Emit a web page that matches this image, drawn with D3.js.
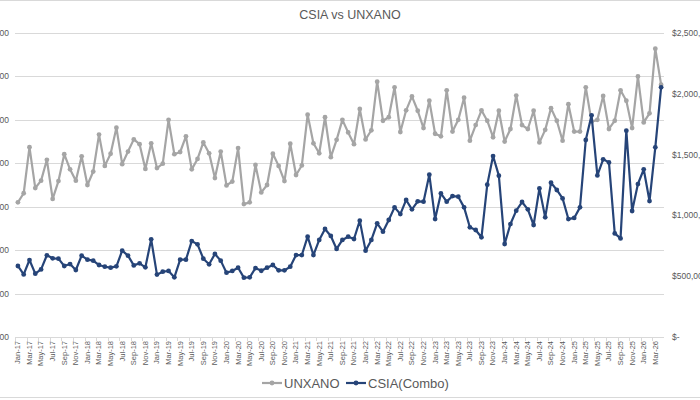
<!DOCTYPE html>
<html><head><meta charset="utf-8">
<script src="https://cdn.jsdelivr.net/npm/d3@7"></script>
<style>body{margin:0;background:#fff}svg{display:block;font-family:"Liberation Sans","Open Sans",sans-serif}</style>
</head><body><svg id="c" width="700" height="400"></svg>
<script>
const months = [
"Jan-17","Feb-17","Mar-17","Apr-17","May-17","Jun-17","Jul-17","Aug-17","Sep-17","Oct-17","Nov-17","Dec-17",
"Jan-18","Feb-18","Mar-18","Apr-18","May-18","Jun-18","Jul-18","Aug-18","Sep-18","Oct-18","Nov-18","Dec-18",
"Jan-19","Feb-19","Mar-19","Apr-19","May-19","Jun-19","Jul-19","Aug-19","Sep-19","Oct-19","Nov-19","Dec-19",
"Jan-20","Feb-20","Mar-20","Apr-20","May-20","Jun-20","Jul-20","Aug-20","Sep-20","Oct-20","Nov-20","Dec-20",
"Jan-21","Feb-21","Mar-21","Apr-21","May-21","Jun-21","Jul-21","Aug-21","Sep-21","Oct-21","Nov-21","Dec-21",
"Jan-22","Feb-22","Mar-22","Apr-22","May-22","Jun-22","Jul-22","Aug-22","Sep-22","Oct-22","Nov-22","Dec-22",
"Jan-23","Feb-23","Mar-23","Apr-23","May-23","Jun-23","Jul-23","Aug-23","Sep-23","Oct-23","Nov-23","Dec-23",
"Jan-24","Feb-24","Mar-24","Apr-24","May-24","Jun-24","Jul-24","Aug-24","Sep-24","Oct-24","Nov-24","Dec-24",
"Jan-25","Feb-25","Mar-25","Apr-25","May-25","Jun-25","Jul-25","Aug-25","Sep-25","Oct-25","Nov-25","Dec-25",
"Jan-26","Feb-26","Mar-26","Apr-26"];

const unxano = [
4100,4310,5370,4430,4600,5080,4180,4590,5210,4860,4600,5160,
4500,4810,5660,4940,5220,5820,4980,5270,5550,5440,4870,5460,
4890,4990,6000,5210,5260,5620,4860,5100,5480,5230,4660,5270,
4490,4580,5350,4060,4100,4960,4330,4500,5220,4940,4590,5450,
4730,4950,6120,5460,5230,6060,5140,5540,6000,5710,5440,6250,
5550,5760,6880,5980,6060,6750,5720,6220,6540,6210,5810,6440,
5680,5620,6680,5730,6000,6510,5520,5880,6220,5980,5600,6210,
5500,5790,6560,5880,5790,6210,5480,5770,6270,5980,5520,6360,
5730,5730,6750,5960,6000,6550,5790,5980,6680,6440,5810,7000,
5940,6150,7640,6810];

const csia = [
584000,515000,633000,521000,556000,672000,647000,644000,584000,600000,551000,669000,
636000,628000,592000,578000,570000,581000,710000,669000,589000,606000,573000,803000,
513000,537000,543000,491000,636000,636000,789000,762000,644000,598000,683000,628000,
529000,543000,570000,488000,491000,567000,545000,570000,592000,548000,548000,578000,
674000,674000,825000,674000,798000,888000,831000,724000,798000,825000,806000,957000,
710000,798000,935000,866000,962000,1066000,1011000,1127000,1050000,1116000,1113000,1335000,
970000,1181000,1113000,1159000,1154000,1066000,902000,880000,820000,1253000,1488000,1327000,
765000,929000,1039000,1110000,1050000,921000,1222000,984000,1269000,1209000,1140000,970000,
979000,1066000,1620000,1823000,1329000,1461000,1436000,852000,811000,1697000,1036000,1258000,
1379000,1118000,1560000,2053000];

const leftTicks = [1000,2000,3000,4000,5000,6000,7000,8000];
const rightTicks = [0,500000,1000000,1500000,2000000,2500000];
const seriesNames = ["UNXANO","CSIA(Combo)"];
const title = "CSIA vs UNXANO";

const svg = d3.select("#c");
const L = 15, R = 664, T = 33, B = 337;
const x = d3.scaleBand().domain(months).range([L, R]);
const yL = d3.scaleLinear().domain([1000, 8000]).range([B, T]);
const yR = d3.scaleLinear().domain([0, 2500000]).range([B, T]);
const cx = m => x(m) + x.bandwidth()/2;

svg.append("line").attr("x1",0).attr("x2",700).attr("y1",0.5).attr("y2",0.5).attr("stroke","#d9d9d9");
svg.append("line").attr("x1",0).attr("x2",700).attr("y1",397.5).attr("y2",397.5).attr("stroke","#d9d9d9");

svg.append("text").attr("x",350).attr("y",19).attr("text-anchor","middle")
  .attr("font-size",12.5).attr("fill","#595959").text(title);

svg.append("g").selectAll("line").data(leftTicks).join("line")
  .attr("x1",L).attr("x2",R).attr("y1",d=>Math.round(yL(d))+0.5).attr("y2",d=>Math.round(yL(d))+0.5)
  .attr("stroke","#d9d9d9").attr("stroke-width",1);

svg.append("g").selectAll("text").data(leftTicks).join("text")
  .attr("x",9).attr("y",d=>yL(d)+3).attr("text-anchor","end").attr("font-size",8.5).attr("fill","#595959")
  .text(d=>d3.format(",")(d));

svg.append("g").selectAll("text").data(rightTicks).join("text")
  .attr("x",672).attr("y",d=>yR(d)+3).attr("font-size",8.5).attr("fill","#595959")
  .text(d=> d===0 ? "$-" : "$" + d3.format(",")(d));

const xAxis = d3.axisBottom(x).tickValues(months.filter((m,i)=>i%2===0)).tickSize(0).tickPadding(0);
const gx = svg.append("g").attr("transform",`translate(0,${B})`).call(xAxis);
gx.select(".domain").remove();
gx.selectAll("text").attr("transform","rotate(-90)").attr("text-anchor","end")
  .attr("x",-4).attr("y",0).attr("dy","0.32em").attr("font-size",7.5).attr("fill","#595959")
  .attr("font-family",'"Liberation Sans",sans-serif');
svg.append("g").selectAll("line").data(months.filter((m,i)=>i%2===0)).join("line")
  .attr("x1",d=>Math.round(x(d))+0.5).attr("x2",d=>Math.round(x(d))+0.5).attr("y1",B).attr("y2",B+4)
  .attr("stroke","#d9d9d9");

const line = (ys, arr) => d3.line().x((d,i)=>cx(months[i])).y(d=>ys(d))(arr);
svg.append("path").attr("d",line(yL,unxano)).attr("fill","none").attr("stroke","#a5a5a5").attr("stroke-width",2.2).attr("stroke-linejoin","round");
svg.append("g").selectAll("circle").data(unxano).join("circle")
  .attr("cx",(d,i)=>cx(months[i])).attr("cy",d=>yL(d)).attr("r",2.4).attr("fill","#a5a5a5");

svg.append("path").attr("d",line(yR,csia)).attr("fill","none").attr("stroke","#264478").attr("stroke-width",2.2).attr("stroke-linejoin","round");
svg.append("g").selectAll("circle").data(csia).join("circle")
  .attr("cx",(d,i)=>cx(months[i])).attr("cy",d=>yR(d)).attr("r",2.4).attr("fill","#264478");

const leg = [{name:seriesNames[0],c:"#a5a5a5",x:262},{name:seriesNames[1],c:"#264478",x:346}];
const lg = svg.append("g").selectAll("g").data(leg).join("g").attr("transform",d=>`translate(${d.x},383)`);
lg.append("line").attr("x1",0).attr("x2",20).attr("stroke",d=>d.c).attr("stroke-width",2.2);
lg.append("circle").attr("cx",10).attr("r",2.4).attr("fill",d=>d.c);
lg.append("text").attr("x",22).attr("y",4.5).attr("font-size",13).attr("fill","#595959").text(d=>d.name);
</script></body></html>
